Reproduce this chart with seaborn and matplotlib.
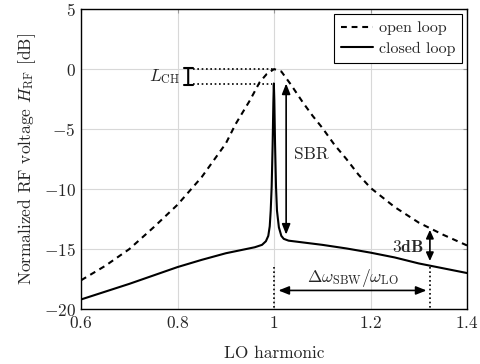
import numpy as np
import pandas as pd
import matplotlib
matplotlib.use("Agg")
import matplotlib.pyplot as plt
import seaborn as sns

# ---- data ----
x_open = [0.6, 0.65, 0.7, 0.75, 0.8, 0.85, 0.9, 0.92, 0.95, 0.97, 0.985, 1.0,
          1.015, 1.035, 1.06, 1.08, 1.1, 1.125, 1.15, 1.175, 1.2, 1.25, 1.3, 1.35, 1.4]
y_open = [-17.6, -16.4, -15.0, -13.2, -11.3, -9.0, -6.2, -4.6, -2.6, -1.1, -0.4, 0.0,
          -0.2, -1.3, -2.8, -3.9, -4.9, -6.3, -7.5, -8.8, -9.9, -11.5, -12.8, -13.8, -14.7]

x_closed = [0.6, 0.65, 0.7, 0.75, 0.8, 0.85, 0.9, 0.93, 0.96, 0.975, 0.983, 0.988, 0.991,
            0.993, 0.995, 0.997, 0.9985, 0.9995, 1.0005, 1.002, 1.004, 1.006, 1.01,
            1.015, 1.02, 1.03, 1.05, 1.1, 1.15, 1.2, 1.25, 1.3, 1.35, 1.4]
y_closed = [-19.2, -18.55, -17.9, -17.2, -16.5, -15.9, -15.35, -15.1, -14.85, -14.65, -14.35, -13.9, -13.1,
            -11.8, -9.8, -6.3, -2.8, -1.2, -2.6, -6.2, -9.8, -11.8, -13.2,
            -13.9, -14.15, -14.3, -14.4, -14.65, -14.95, -15.3, -15.7, -16.2, -16.6, -17.0]

series_names = ["open loop", "closed loop"]
x_ticks = [0.6, 0.8, 1.0, 1.2, 1.4]
x_tick_labels = ["$0.6$", "$0.8$", "$1$", "$1.2$", "$1.4$"]
y_ticks = [5, 0, -5, -10, -15, -20]
y_tick_labels = ["$5$", "$0$", "$-5$", "$-10$", "$-15$", "$-20$"]

df = pd.concat([
    pd.DataFrame({"x": x_open, "y": y_open, "series": series_names[0]}),
    pd.DataFrame({"x": x_closed, "y": y_closed, "series": series_names[1]}),
], ignore_index=True)

sns.set_style("whitegrid")
plt.rcParams.update({
    "font.family": "serif",
    "font.serif": ["cmr10", "DejaVu Serif"],
    "mathtext.fontset": "cm",
    "axes.formatter.use_mathtext": True,
    "axes.unicode_minus": True,
    "font.size": 12.5,
})

FS = 12.5
fig = plt.figure(figsize=(4.8, 3.64), dpi=100)
ax = fig.add_axes([0.169, 0.151, 0.804, 0.824])

sns.lineplot(data=df, x="x", y="y", hue="series", style="series",
             palette={series_names[0]: "black", series_names[1]: "black"},
             dashes={series_names[0]: (2.8, 2.3), series_names[1]: ""},
             linewidth=1.5, ax=ax, sort=False, estimator=None)

ax.set_xlim(0.6, 1.4)
ax.set_ylim(-20, 5)
ax.set_xticks(x_ticks)
ax.set_xticklabels(x_tick_labels)
ax.set_yticks(y_ticks)
ax.set_yticklabels(y_tick_labels)
ax.tick_params(axis="both", which="both", direction="in", length=3, width=0.8,
               color="#999999", labelsize=FS, pad=4, top=True, right=True)
ax.grid(True, color="#d8d8d8", linewidth=0.8)
for s in ax.spines.values():
    s.set_color("black")
    s.set_linewidth(1.0)

ax.set_xlabel("LO harmonic", fontsize=FS, labelpad=11)
ax.set_ylabel(r"Normalized RF voltage $H_{\mathrm{RF}}$ [dB]", fontsize=FS, labelpad=4)

# legend
handles, labels = ax.get_legend_handles_labels()
leg = ax.legend(handles, labels, loc="upper right", frameon=True, fancybox=False,
                edgecolor="black", framealpha=1, fontsize=11.5, borderaxespad=0.3,
                handlelength=2.0, handletextpad=0.35, borderpad=0.45, labelspacing=0.4)
leg.get_frame().set_linewidth(0.8)

dot = (0, (1, 1.6))
# L_CH dotted guides and bracket
ax.plot([0.832, 0.998], [0, 0], color="black", lw=1.2, linestyle=dot)
ax.plot([0.832, 0.995], [-1.25, -1.25], color="black", lw=1.2, linestyle=dot)
ax.annotate("", xy=(0.822, 0.05), xytext=(0.822, -1.3),
            arrowprops=dict(arrowstyle="|-|,widthA=0.25,widthB=0.25", lw=1.5,
                            color="black", shrinkA=0, shrinkB=0))
ax.text(0.806, -0.65, r"$L_{\mathrm{CH}}$", ha="right", va="center", fontsize=FS)

# SBR arrow
ax.annotate("", xy=(1.025, -1.2), xytext=(1.025, -13.8),
            arrowprops=dict(arrowstyle="<|-|>,head_length=0.5,head_width=0.2", lw=1.2,
                            color="black", shrinkA=0, shrinkB=0))
ax.text(1.042, -7.1, "SBR", ha="left", va="center", fontsize=FS)

# 3dB arrow
ax.annotate("", xy=(1.323, -13.4), xytext=(1.323, -16.0),
            arrowprops=dict(arrowstyle="<|-|>,head_length=0.4,head_width=0.18", lw=1.2,
                            color="black", shrinkA=0, shrinkB=0))
ax.text(1.311, -14.8, r"$\mathbf{3dB}$", ha="right", va="center", fontsize=FS)

# bandwidth markers
ax.plot([1.0, 1.0], [-16.5, -20], color="black", lw=1.2, linestyle=dot)
ax.plot([1.323, 1.323], [-16.5, -20], color="black", lw=1.2, linestyle=dot)
ax.annotate("", xy=(1.009, -18.45), xytext=(1.316, -18.45),
            arrowprops=dict(arrowstyle="<|-|>,head_length=0.5,head_width=0.2", lw=1.2,
                            color="black", shrinkA=0, shrinkB=0))
ax.text(1.164, -17.4, r"$\Delta\omega_{\mathrm{SBW}}/\omega_{\mathrm{LO}}$",
        ha="center", va="center", fontsize=FS)

fig.savefig("out.png", dpi=100)
